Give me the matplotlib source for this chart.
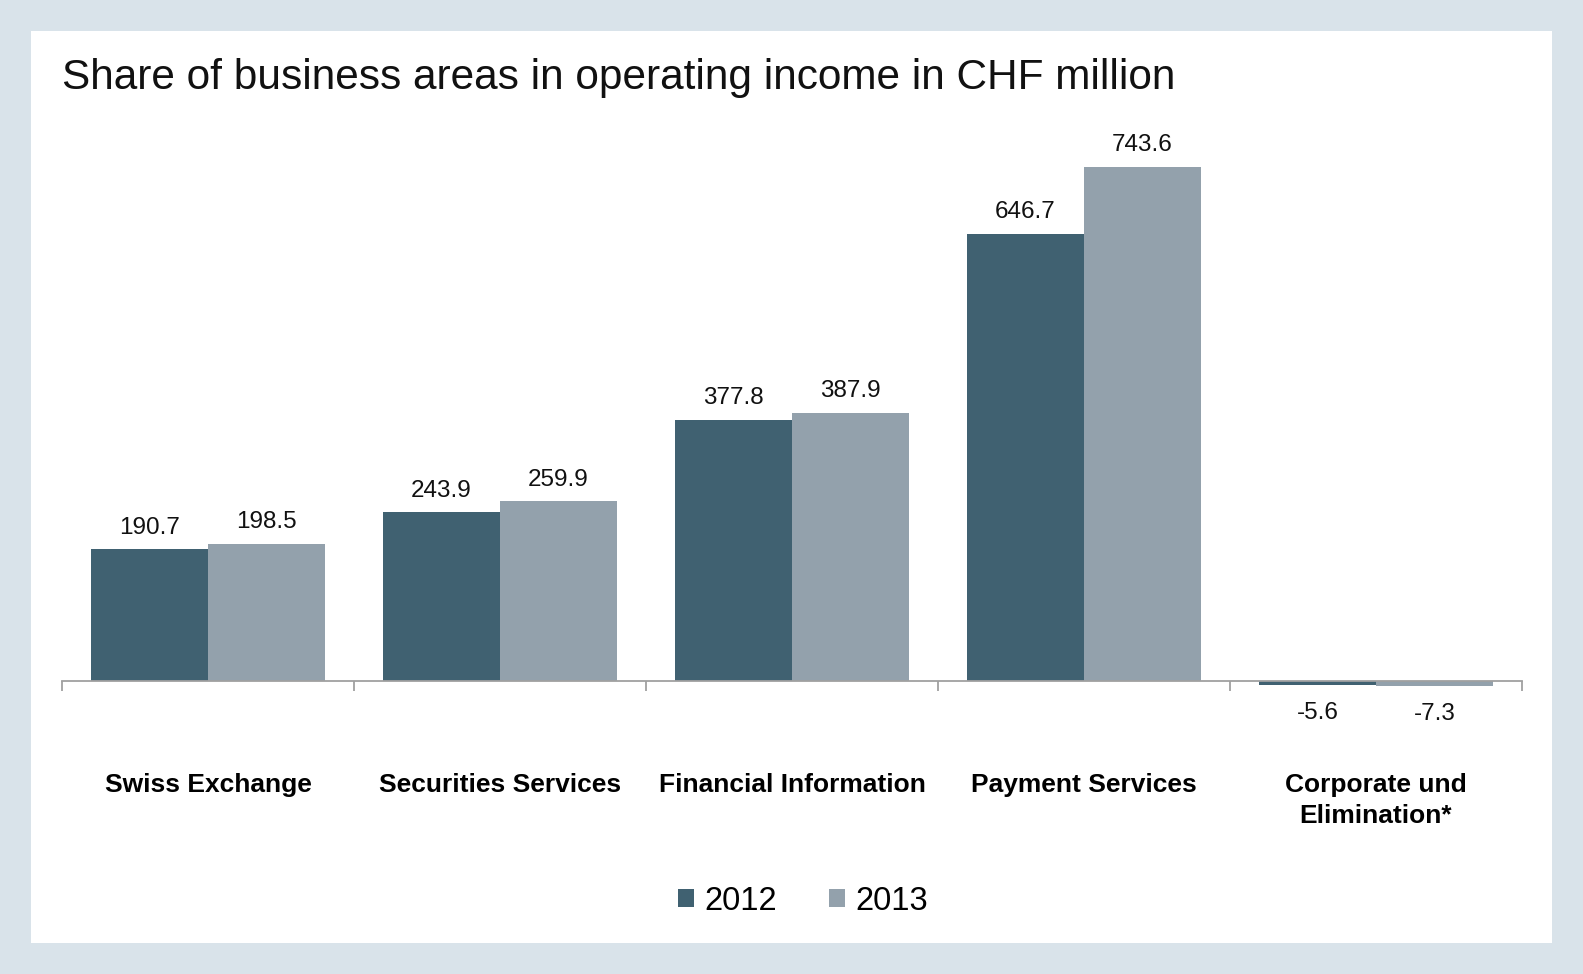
import matplotlib

matplotlib.use("Agg")

import matplotlib.pyplot as plt
import numpy as np
from matplotlib.patches import Patch, Rectangle

plt.rcParams["font.family"] = ["Liberation Sans", "DejaVu Sans"]

CATEGORIES = [
    "Swiss Exchange",
    "Securities Services",
    "Financial Information",
    "Payment Services",
    "Corporate und\nElimination*",
]
YEARS = ["2012", "2013"]
VALUES_2012 = [190.7, 243.9, 377.8, 646.7, -5.6]
VALUES_2013 = [198.5, 259.9, 387.9, 743.6, -7.3]

COLOR_2012 = "#406171"
COLOR_2013 = "#93a1ac"
PAGE_BG = "#d9e3ea"
AXIS_GRAY = "#a0a0a0"

W, H = 1583, 974
fig = plt.figure(figsize=(W / 100, H / 100), dpi=100, facecolor=PAGE_BG)

# white panel behind the chart
fig.patches.append(
    Rectangle((31 / W, 1 - 943 / H), (1552 - 31) / W, (943 - 31) / H,
              transform=fig.transFigure, facecolor="white", edgecolor="none", zorder=-5)
)

ax = fig.add_axes([62 / W, 1 - 700 / H, 1460 / W, 570 / H])
ax.set_zorder(2)
ax.patch.set_alpha(0)

x = np.arange(len(CATEGORIES))
width = 0.4
bars_a = ax.bar(x - width / 2, VALUES_2012, width, color=COLOR_2012, zorder=2)
bars_b = ax.bar(x + width / 2, VALUES_2013, width, color=COLOR_2013, zorder=2)

for bars, vals in ((bars_a, VALUES_2012), (bars_b, VALUES_2013)):
    for bar, v in zip(bars, vals):
        off = 15.5 if v >= 0 else -20.5
        ax.annotate(f"{v:.1f}", (bar.get_x() + bar.get_width() / 2, v),
                    xytext=(0, off), textcoords="offset points",
                    ha="center", va="center", fontsize=17.5, color="#111111")

ax.set_xlim(-0.5, len(CATEGORIES) - 0.5)
ax.set_ylim(-27.5, 796.5)

for side in ("left", "right", "top"):
    ax.spines[side].set_visible(False)
ax.spines["bottom"].set_position(("data", 0))
ax.spines["bottom"].set_color(AXIS_GRAY)
ax.spines["bottom"].set_linewidth(1.3)
ax.set_yticks([])

# boundary ticks between groups, labels centred under each group
ax.set_xticks(np.arange(len(CATEGORIES) + 1) - 0.5)
ax.set_xticklabels([])
ax.tick_params(axis="x", which="major", direction="out", length=7.5, width=1.3, color=AXIS_GRAY)
ax.set_xticks(x, minor=True)
ax.set_xticklabels(CATEGORIES, minor=True, fontsize=19, fontweight="bold", linespacing=1.38)
ax.tick_params(axis="x", which="minor", length=0, pad=66)

fig.text(62 / W, 1 - 78 / H, "Share of business areas in operating income in CHF million",
         fontsize=30.5, ha="left", va="center", color="#111111")

handles = [Patch(facecolor=COLOR_2012, edgecolor="none"), Patch(facecolor=COLOR_2013, edgecolor="none")]
fig.legend(handles, YEARS, loc="center", bbox_to_anchor=(803 / W, 1 - 901 / H), ncol=2,
           frameon=False, fontsize=23.5, handlelength=0.5, handleheight=0.5,
           handletextpad=0.3, columnspacing=1.6)

fig.savefig("out.png", dpi=100, facecolor=PAGE_BG)
